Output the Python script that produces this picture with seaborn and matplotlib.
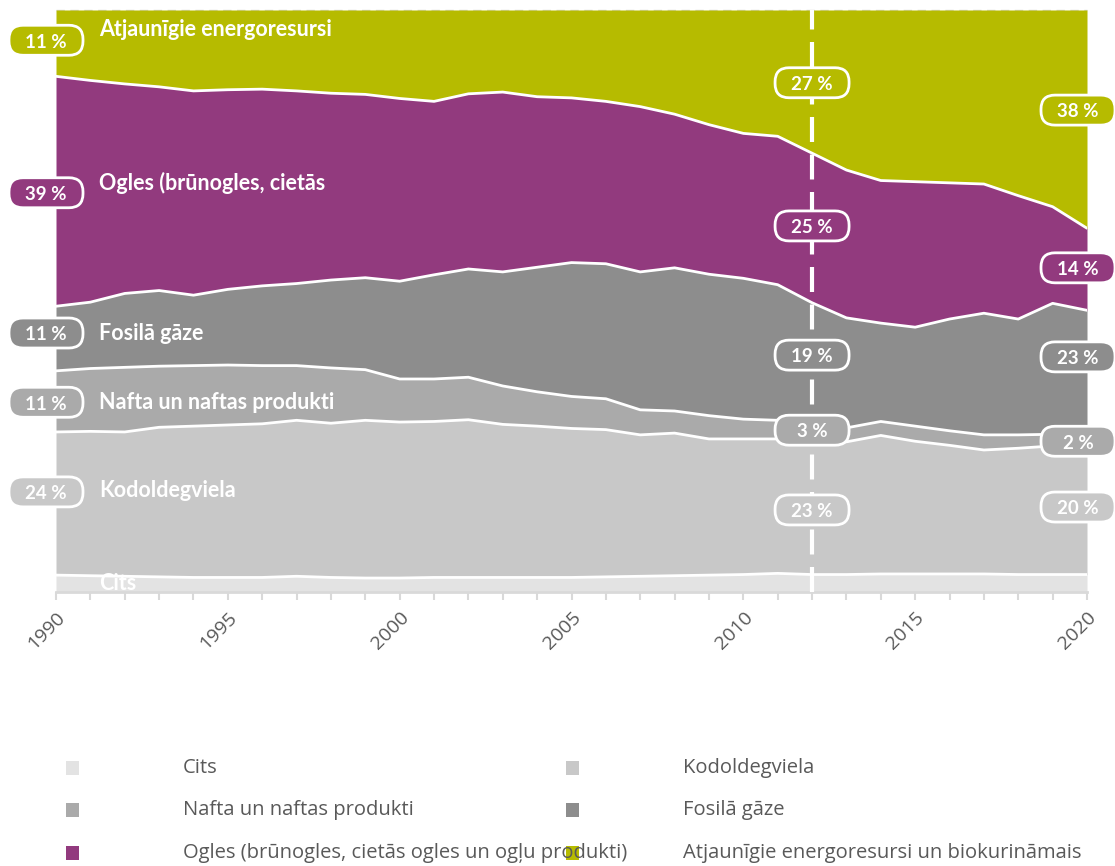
import numpy as np
import seaborn as sns
import matplotlib.pyplot as plt
from matplotlib.patches import FancyBboxPatch, Rectangle

# -------- data (shares in %) --------
years = list(range(1990, 2021))

cits = [2.9, 2.8, 2.7, 2.6, 2.5, 2.5, 2.5, 2.7, 2.5, 2.4, 2.4, 2.5, 2.5, 2.5, 2.5, 2.5,
        2.6, 2.7, 2.8, 2.9, 3.0, 3.2, 3.0, 3.0, 3.1, 3.1, 3.1, 3.1, 3.0, 3.0, 3.0]
kodol = [24.6, 24.8, 24.8, 25.7, 26.0, 26.2, 26.4, 26.8, 26.5, 27.1, 26.8, 26.8, 27.1, 26.3, 26.0, 25.6,
         25.3, 24.3, 24.5, 23.4, 23.3, 23.1, 23.0, 22.8, 23.8, 22.8, 22.1, 21.3, 21.7, 22.1, 22.3]
nafta = [10.5, 10.8, 11.1, 10.5, 10.4, 10.3, 10.0, 9.4, 9.5, 8.7, 7.4, 7.3, 7.3, 6.6, 5.9, 5.5,
         5.3, 4.3, 3.8, 4.0, 3.4, 3.2, 3.0, 2.4, 2.4, 2.6, 2.5, 2.6, 2.3, 2.0, 1.8]
gaze = [11.1, 11.4, 12.7, 13.0, 12.1, 13.0, 13.7, 14.1, 15.1, 15.8, 16.8, 17.9, 18.6, 19.6, 21.4, 23.0,
        23.2, 23.7, 24.6, 24.3, 24.2, 23.3, 20.7, 18.9, 16.9, 17.0, 19.2, 20.9, 19.9, 22.5, 21.3]
ogles = [39.5, 38.1, 36.0, 35.0, 35.1, 34.3, 33.8, 33.1, 32.1, 31.5, 31.4, 29.8, 30.1, 30.9, 29.3, 28.3,
         27.9, 28.4, 26.4, 25.7, 24.9, 25.5, 25.7, 25.4, 24.5, 25.0, 23.4, 22.2, 21.2, 16.6, 14.1]
atjaun = [11.4, 12.1, 12.7, 13.2, 13.9, 13.7, 13.6, 13.9, 14.3, 14.5, 15.2, 15.7, 14.4, 14.1, 14.9, 15.1,
          15.7, 16.6, 17.9, 19.7, 21.2, 21.7, 24.6, 27.5, 29.3, 29.5, 29.7, 29.9, 31.9, 33.8, 37.5]

legend_names = ['Cits', 'Kodoldegviela', 'Nafta un naftas produkti', 'Fosilā gāze',
                'Ogles (brūnogles, cietās ogles un ogļu produkti)',
                'Atjaunīgie energoresursi un biokurināmais']
area_names = ['Cits', 'Kodoldegviela', 'Nafta un naftas produkti', 'Fosilā gāze',
              'Ogles (brūnogles, cietās', 'Atjaunīgie energoresursi']
colors = ['#e3e3e3', '#c8c8c8', '#aaaaaa', '#8d8d8d', '#923a7e', '#b6bb00']

labels_1990 = ['', '24 %', '11 %', '11 %', '39 %', '11 %']
labels_2012 = ['', '23 %', '3 %', '19 %', '25 %', '27 %']
labels_2020 = ['', '20 %', '2 %', '23 %', '14 %', '38 %']

# -------- figure --------
sns.set_theme(style='white')
plt.rcParams['font.family'] = ['Lato', 'DejaVu Sans']

W, H = 1115, 866
fig = plt.figure(figsize=(W / 100, H / 100), dpi=100)
ax = fig.add_axes([56 / W, 1 - 592 / H, (1087 - 56) / W, (592 - 10) / H])

layers = np.array([cits, kodol, nafta, gaze, ogles, atjaun])
ax.stackplot(years, layers, colors=colors, linewidth=0)

cum = np.cumsum(layers, axis=0)
for row in cum[:-1]:
    sns.lineplot(x=years, y=row, color='white', linewidth=2, ax=ax, zorder=3)

ax.set_xlim(1990, 2020)
ax.set_ylim(0, 100)
ax.set_yticks([])
ax.set_ylabel('')

# faint dashed gridline at the top
ax.axhline(100, color='#d9d9d9', linewidth=1, linestyle=(0, (6, 4)), zorder=0, clip_on=False)

# vertical dashed marker at 2012
ax.axvline(2012, ymin=0, ymax=1.0, color='white', linewidth=3, linestyle=(0, (6, 3)),
           zorder=4, clip_on=False)

# x axis
ax.set_xticks(years)
ax.set_xticklabels([str(y) if y % 5 == 0 else '' for y in years],
                   rotation=45, ha='right', rotation_mode='anchor',
                   fontfamily=['Open Sans', 'DejaVu Sans'])
ax.tick_params(axis='x', length=6, width=1.5, color='#d9d9d9', labelcolor='#595959',
               labelsize=14, pad=6, bottom=True, direction='out')
for s in ['left', 'right', 'top']:
    ax.spines[s].set_visible(False)
ax.spines['bottom'].set_color('#d9d9d9')
ax.spines['bottom'].set_linewidth(2)

# -------- pill labels --------
px_x = 30 / (1087 - 56)      # years per pixel
px_y = 100 / (592 - 10)      # percent per pixel
aspect = px_y / px_x


def pill(xc, yc, txt, fc):
    w, h = 74 * px_x, 30 * px_y
    box = FancyBboxPatch((xc - w / 2, yc - h / 2), w, h,
                         boxstyle='round,pad=0,rounding_size=%f' % (14 * px_x),
                         mutation_aspect=aspect, fc=fc, ec='white', lw=2,
                         clip_on=False, zorder=5)
    ax.add_patch(box)
    ax.text(xc, yc - 0.3, txt, ha='center', va='center', color='white', fontsize=13.5,
            fontweight='bold', zorder=6, clip_on=False)


left_y = [0, 17.2, 32.6, 44.5, 68.6, 94.8]
mid_y = [0, 14.1, 27.8, 40.7, 62.9, 87.5]
right_y = [0, 14.6, 25.9, 40.4, 55.7, 82.8]
for i in range(1, 6):
    pill(1990 - 10 * px_x, left_y[i], labels_1990[i], colors[i])
    pill(2012, mid_y[i], labels_2012[i], colors[i])
    pill(2020 - 9 * px_x, right_y[i], labels_2020[i], colors[i])

name_y = [1.5, 17.5, 32.5, 44.5, 70.3, 96.6]
for i, nm in enumerate(area_names):
    ax.text(1990 + 43 * px_x, name_y[i], nm, ha='left', va='center', color='white',
            fontsize=15.5, fontweight='bold', zorder=6, clip_on=(i == 0))

# -------- legend (manual, two columns) --------
row_y = [768, 810, 853]
sq_x = [66, 566]
txt_x = [183, 683]
for i, nm in enumerate(legend_names):
    r, c = i // 2, i % 2
    fig.add_artist(Rectangle((sq_x[c] / W, 1 - (row_y[r] + 7) / H), 13 / W, 14 / H,
                             transform=fig.transFigure, fc=colors[i], ec='none'))
    fig.text(txt_x[c] / W, 1 - row_y[r] / H, nm, ha='left', va='center', color='#595959',
             fontsize=14.5, fontfamily=['Open Sans', 'DejaVu Sans'])

fig.savefig('out.png', dpi=100)
